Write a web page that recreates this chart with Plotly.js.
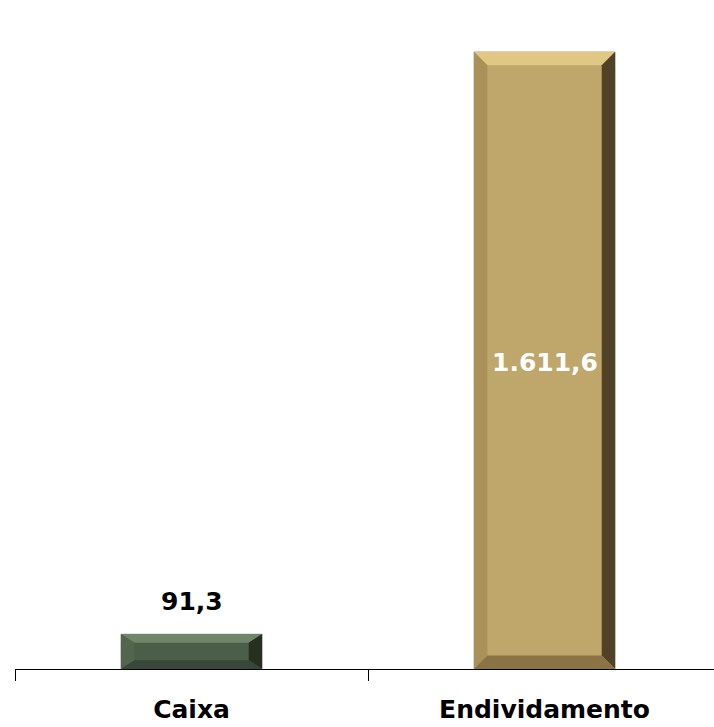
<!DOCTYPE html>
<html>
<head>
<meta charset="utf-8">
<script src="https://cdn.plot.ly/plotly-3.0.1.min.js"></script>
<style>html,body{margin:0;padding:0;background:#fff;}#chart{width:714px;height:727px;}</style>
</head>
<body>
<div id="chart"></div>
<script>
const categories = ["Caixa", "Endividamento"];
const values = [91.3, 1611.6];
const faceColors = ["#4b5e48", "#bfa66b"];
const topColors = ["#6f866a", "#e0c884"];
const leftColors = ["#52654d", "#a99159"];
const rightColors = ["#26301f", "#4f4227"];
const bottomColors = ["#38473a", "#8a7446"];
const labelInside = [false, true];

const barWidth = 0.40;
const bevelX = 0.038;
const bevelY = 35;

const shapes = [];
values.forEach((v, i) => {
  const x0 = i - barWidth / 2, x1 = i + barWidth / 2;
  const bx = bevelX, by = Math.min(bevelY, v / 4);
  const poly = (pts, c) => shapes.push({
    type: "path", xref: "x", yref: "y", layer: "above",
    path: "M" + pts.map(p => p[0] + "," + p[1]).join(" L") + " Z",
    fillcolor: c, line: {width: 0}
  });
  poly([[x0, v], [x1, v], [x1 - bx, v - by], [x0 + bx, v - by]], topColors[i]);
  poly([[x0, 0], [x0, v], [x0 + bx, v - by], [x0 + bx, by]], leftColors[i]);
  poly([[x1, 0], [x1, v], [x1 - bx, v - by], [x1 - bx, by]], rightColors[i]);
  poly([[x0, 0], [x1, 0], [x1 - bx, by], [x0 + bx, by]], bottomColors[i]);
});

const fmt = v => {
  const [a, b] = v.toFixed(1).split(".");
  return a.replace(/\B(?=(\d{3})+(?!\d))/g, ".") + "," + b;
};

const annotations = values.map((v, i) => labelInside[i] ? {
  x: i, y: v / 2, xref: "x", yref: "y", text: fmt(v), showarrow: false,
  yanchor: "middle", xanchor: "center", yshift: -2,
  font: {family: "DejaVu Sans", size: 25, color: "#ffffff", weight: "bold"}
} : {
  x: i, y: v, xref: "x", yref: "y", text: fmt(v), showarrow: false,
  yanchor: "bottom", xanchor: "center", yshift: 16,
  font: {family: "DejaVu Sans", size: 25, color: "#000000", weight: "bold"}
});

const trace = {
  type: "bar",
  x: [0, 1],
  y: values,
  width: barWidth,
  marker: {color: faceColors, line: {color: "#c8c8c8", width: 1}},
  hoverinfo: "skip"
};

const layout = {
  width: 714, height: 727,
  margin: {l: 15, r: 0, t: 18, b: 58},
  paper_bgcolor: "#ffffff", plot_bgcolor: "#ffffff",
  showlegend: false,
  shapes: shapes,
  annotations: annotations,
  xaxis: {
    tickmode: "array", tickvals: [0, 1], ticktext: categories,
    range: [-0.5, 1.48],
    showline: true, linecolor: "#000000", linewidth: 1,
    showgrid: false, zeroline: false,
    ticks: "",
    tickfont: {family: "DejaVu Sans", size: 25, color: "#000000", weight: "bold"},
    ticklabelstandoff: 18
  },
  yaxis: {
    range: [0, 1700], visible: false, showgrid: false, zeroline: false
  },
  xaxis2: {
    overlaying: "x", range: [-0.5, 1.48], tickmode: "array", tickvals: [-0.5, 0.5, 1.5],
    ticks: "outside", ticklen: 11, tickcolor: "#000000", tickwidth: 1,
    showticklabels: false, showgrid: false, zeroline: false, showline: false, side: "bottom",
    anchor: "y"
  }
};
const dummy = {type: "scatter", x: [0], y: [0], xaxis: "x2", mode: "markers", marker: {opacity: 0}, hoverinfo: "skip"};

Plotly.newPlot("chart", [trace, dummy], layout, {displayModeBar: false, staticPlot: true});
</script>
</body>
</html>
